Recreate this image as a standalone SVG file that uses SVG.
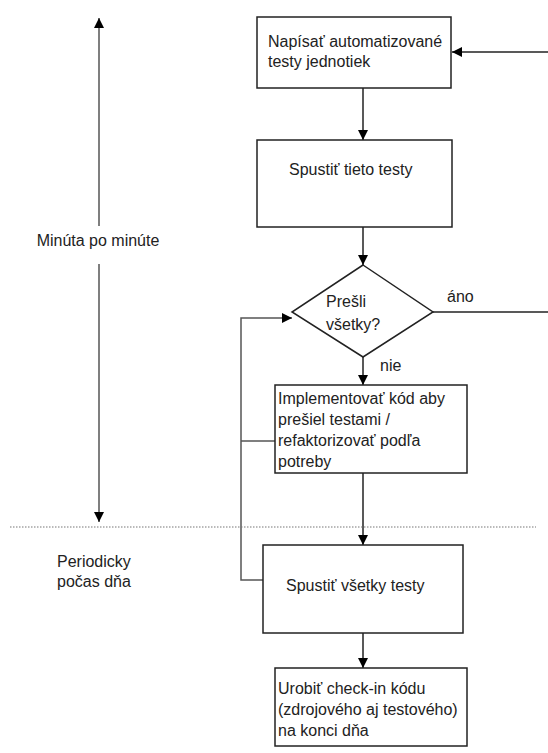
<svg xmlns="http://www.w3.org/2000/svg" width="548" height="753" viewBox="0 0 548 753">
<defs>
<marker id="ah" viewBox="0 0 10 10" refX="10" refY="5" markerWidth="10" markerHeight="10" markerUnits="userSpaceOnUse" orient="auto">
<path d="M0,0 L10,5 L0,10 z" fill="#000"/>
</marker>
</defs>
<style>
.box{fill:#fff;stroke:#222;stroke-width:1.5}
.t{font-family:"Liberation Sans",Arial,sans-serif;font-size:16px;fill:#222}
.c{fill:none;stroke:#222;stroke-width:1.5}
.g{fill:none;stroke:#555;stroke-width:1.5}
</style>
<rect width="548" height="753" fill="#fff"/>
<g id="connectors">
<path class="c" d="M363,88 V140" marker-end="url(#ah)"/>
<path class="c" d="M363,227 V265" marker-end="url(#ah)"/>
<path class="c" d="M363,357 V385" marker-end="url(#ah)"/>
<path class="c" d="M363,473 V545" marker-end="url(#ah)"/>
<path class="c" d="M363,633 V668" marker-end="url(#ah)"/>
<path class="c" d="M433,312 H548"/>
<path class="c" d="M548,52 H452" marker-end="url(#ah)"/>
<path class="g" d="M263,580 H241 V318 H292" marker-end="url(#ah)"/>
<path class="g" d="M275,441 H241"/>
<path class="g" d="M99,226 V18" marker-end="url(#ah)"/>
<path class="g" d="M99,264 V522" marker-end="url(#ah)"/>
<path d="M10,527 H536" fill="none" stroke="#777" stroke-width="1.2" stroke-dasharray="1.5,1.5"/>
<text class="t" x="447" y="302">áno</text>
<text class="t" x="380" y="371">nie</text>
</g>
<g id="label-minuta"><text class="t" x="98" y="246" text-anchor="middle">Minúta po minúte</text></g>
<g id="label-periodicky"><text class="t" x="57" y="567">Periodicky</text><text class="t" x="57" y="587">počas dňa</text></g>
<g id="n1"><rect class="box" x="257" y="17" width="194" height="71"/><text class="t" x="268" y="47">Napísať automatizované</text><text class="t" x="268" y="67">testy jednotiek</text></g>
<g id="n2"><rect class="box" x="257" y="140" width="195" height="87"/><text class="t" x="289" y="175">Spustiť tieto testy</text></g>
<g id="n3"><path class="box" d="M363,265 L433,312 L363,357 L292,312 Z"/><text class="t" x="326" y="307">Prešli</text><text class="t" x="326" y="330">všetky?</text></g>
<g id="n4"><rect class="box" x="275" y="385" width="192" height="88"/><text class="t" x="278" y="404">Implementovať kód aby</text><text class="t" x="278" y="425">prešiel testami /</text><text class="t" x="278" y="446">refaktorizovať podľa</text><text class="t" x="278" y="467">potreby</text></g>
<g id="n5"><rect class="box" x="263" y="545" width="200" height="88"/><text class="t" x="286" y="591">Spustiť všetky testy</text></g>
<g id="n6"><rect class="box" x="275" y="668" width="192" height="78"/><text class="t" x="278" y="694">Urobiť check-in kódu</text><text class="t" x="278" y="715">(zdrojového aj testového)</text><text class="t" x="278" y="736">na konci dňa</text></g>
</svg>
